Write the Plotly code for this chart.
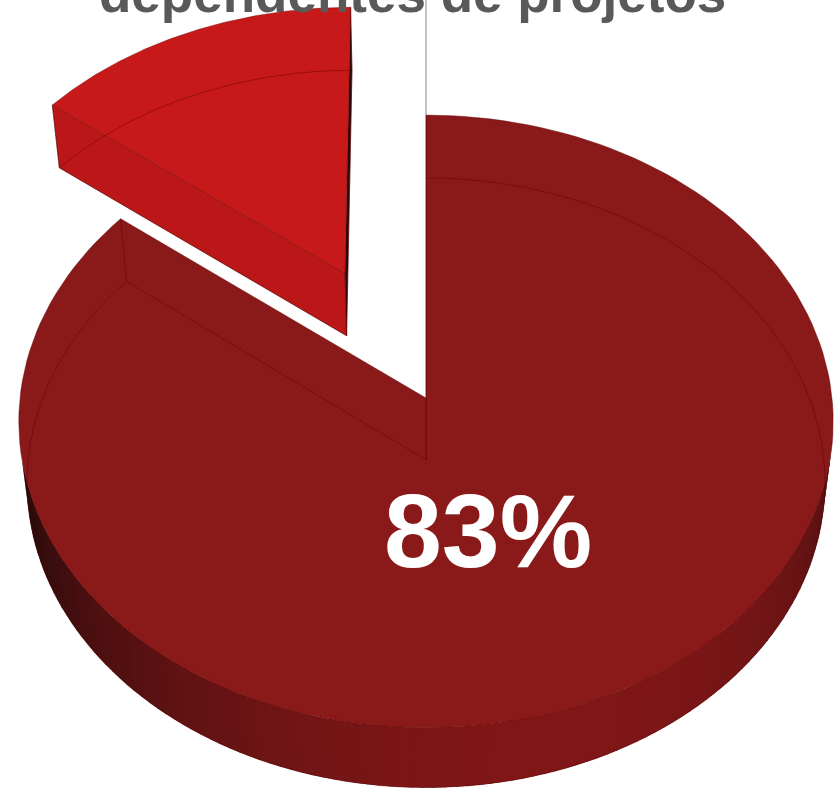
import numpy as np
import plotly.graph_objects as go

# ---- data ----
categories = ["Outros", "Dependentes de projetos"]
values = [14, 83]          # percentages
pulls = [0.47, 0.0]
top_colors = ["#C8191A", "#8A191A"]
cut_colors = ["#BC1718", "#801819"]
title_text = "dependentes de projetos"
label_shown = [False, True]

# ---- 3D pie projection settings ----
W, H = 840, 789
elev = np.radians(48.6)
ce, se = np.cos(elev), np.sin(elev)
Dcam = 8.63
focal = 3504.0
cx, cy = 426.0, 398.0
thick = 0.235
start_deg = 90.0


def proj(x, y, z):
    x = np.asarray(x, float); y = np.asarray(y, float); z = np.asarray(z, float)
    depth = y * ce - z * se + Dcam
    v = y * se + z * ce
    return cx + focal * x / depth, cy - focal * v / depth


def arc(a0, a1, ox, oy, z, n=160):
    th = np.radians(np.linspace(a0, a1, n))
    return proj(ox + np.cos(th), oy + np.sin(th), np.full_like(th, z))


fig = go.Figure()


def poly(xs, ys, color, lw=0.6, lcolor=None):
    fig.add_trace(go.Scatter(x=list(xs) + [xs[0]], y=list(ys) + [ys[0]], mode="lines",
                             fill="toself", fillcolor=color,
                             line=dict(color=lcolor or color, width=lw),
                             hoverinfo="skip", showlegend=False))


def line(xs, ys, color, lw=1.0):
    fig.add_trace(go.Scatter(x=list(xs), y=list(ys), mode="lines",
                             line=dict(color=color, width=lw),
                             hoverinfo="skip", showlegend=False))


total = float(sum(values))
slices = []
a = start_deg
for i, v in enumerate(values):
    span = 360.0 * v / total
    a0, a1 = a, a + span
    mid = np.radians((a0 + a1) / 2)
    ox, oy = pulls[i] * np.cos(mid), pulls[i] * np.sin(mid)
    slices.append((a0, a1, ox, oy))
    a = a1

Lx, Ly = 0.3, -0.95
Ln = np.hypot(Lx, Ly)
Lx, Ly = Lx / Ln, Ly / Ln
dark = np.array([35, 10, 10]); light = np.array([128, 23, 24])

cam = np.array([0.0, -Dcam * ce, Dcam * se])

for i in [0, 1]:
    a0, a1, ox, oy = slices[i]
    # outer wall segments (visible part only), overlapping to avoid seams
    step = 1.5
    edges = np.arange(a0, a1, step)
    for e0 in edges:
        e1 = min(e0 + step * 2.2, a1)
        tm = np.radians(e0 + step / 2)
        n = np.array([np.cos(tm), np.sin(tm), 0.0])
        P = np.array([ox + np.cos(tm), oy + np.sin(tm), 0.0])
        if np.dot(cam - P, n) <= 0:
            continue
        sh = np.clip((n[0] * Lx + n[1] * Ly + 0.15) / 1.15, 0, 1)
        c = dark + (light - dark) * sh
        if i == 0:
            c = c * 1.45
        col = "rgb(%d,%d,%d)" % tuple(np.clip(c, 0, 255).astype(int))
        tx, ty = arc(e0, e1, ox, oy, 0.0, 6)
        bx, by = arc(e0, e1, ox, oy, -thick, 6)
        poly(np.r_[tx, bx[::-1]], np.r_[ty, by[::-1]], col, lw=0)
    # radial cut faces
    for ang, sgn in ((a0, -1), (a1, 1)):
        t = np.radians(ang)
        nrm = np.array([sgn * -np.sin(t), sgn * np.cos(t), 0.0])
        P = np.array([ox, oy, 0.0])
        if np.dot(cam - P, nrm) <= 1e-6:
            continue
        xs_w = [ox, ox + np.cos(t), ox + np.cos(t), ox]
        ys_w = [oy, oy + np.sin(t), oy + np.sin(t), oy]
        zs_w = [0, 0, -thick, -thick]
        px, py = proj(xs_w, ys_w, zs_w)
        col = cut_colors[i] if sgn > 0 else "#2A0A0A"
        poly(px, py, col, lw=0.8, lcolor="rgba(90,0,0,0.55)")
    # top face
    tx, ty = arc(a0, a1, ox, oy, 0.0)
    pcx, pcy = proj(ox, oy, 0.0)
    poly(np.r_[float(pcx), tx], np.r_[float(pcy), ty], top_colors[i], lw=0.8,
         lcolor="rgba(100,5,5,0.55)")
    # see-through hidden edges (bottom outline)
    bx, by = arc(a0, a1, ox, oy, -thick)
    bcx, bcy = proj(ox, oy, -thick)
    line(np.r_[float(bcx), bx, float(bcx)], np.r_[float(bcy), by, float(bcy)],
         "rgba(95,0,0,0.45)", 1.0)
    for ang in (a0, a1):
        t = np.radians(ang)
        vx, vy = proj([ox + np.cos(t)] * 2, [oy + np.sin(t)] * 2, [0, -thick])
        line(vx, vy, "rgba(95,0,0,0.45)", 1.0)
    vx, vy = proj([ox, ox], [oy, oy], [0, -thick])
    line(vx, vy, "rgba(95,0,0,0.45)", 1.0)

# thin gray leader line above the slice split
rx, ry = proj(0.0, 1.0, 0.0)
line([float(rx), float(rx)], [0, float(ry)], "#9A9A9A", 1.2)

annots = []
for i, v in enumerate(values):
    if not label_shown[i]:
        continue
    annots.append(dict(x=488, y=531, xref="x", yref="y", showarrow=False,
                       text="<b>%d%%</b>" % v,
                       font=dict(family="Liberation Sans, Arial", size=104, color="white"),
                       xanchor="center", yanchor="middle"))
annots.append(dict(x=412, y=1 + 6.0 / H, xref="x", yref="paper", showarrow=False,
                   text="<b>%s</b>" % title_text,
                   font=dict(family="Liberation Sans, Arial", size=53, color="#595959"),
                   xanchor="center", yanchor="middle"))

fig.update_layout(
    width=W, height=H, margin=dict(l=0, r=0, t=0, b=0),
    paper_bgcolor="white", plot_bgcolor="white",
    xaxis=dict(range=[0, W], visible=False, fixedrange=True),
    yaxis=dict(range=[H, 0], visible=False, fixedrange=True),
    annotations=annots, showlegend=False,
)
fig.write_html("out.html")
